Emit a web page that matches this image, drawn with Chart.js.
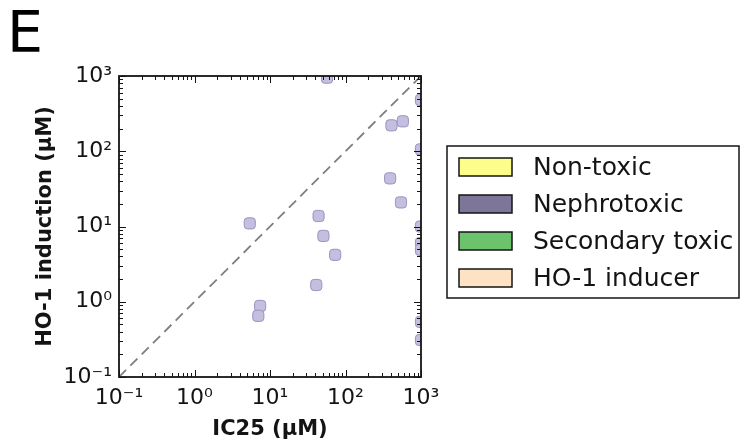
<!DOCTYPE html>
<html>
<head>
<meta charset="utf-8">
<script src="https://cdn.jsdelivr.net/npm/chart.js@4.4.1/dist/chart.umd.min.js"></script>
<style>
  html, body { margin: 0; padding: 0; background: #fff; }
</style>
</head>
<body>
<canvas id="scatterChart" width="751" height="445"></canvas>
<script>
// Legend categories
const categories = ['Non-toxic', 'Nephrotoxic', 'Secondary toxic', 'HO-1 inducer'];
const categoryColors = ['#fdfd8c', '#7d7698', '#6cc36c', '#fde2c3'];

// Nephrotoxic compounds (µM)
const nephroIC25 = [5.4, 7.4, 7.0, 44, 51, 73, 41, 57, 406, 575, 390, 543, 1000, 1000, 1000, 1000, 1000, 1000, 1000];
const nephroHO1  = [11, 0.88, 0.65, 13.8, 7.5, 4.2, 1.67, 950, 221, 250, 43.6, 20.9, 480, 106, 10, 6.0, 4.9, 0.54, 0.31];

// Other categories have no points in this panel
const nonToxic = [];
const secondaryToxic = [];
const ho1Inducer = [];

// y = x reference line
const identityLine = [0.1, 1000];

// Axis ticks
const tickValues = [0.1, 1, 10, 100, 1000];
const tickLabels = ['10\u207B\u00B9', '10\u2070', '10\u00B9', '10\u00B2', '10\u00B3'];

const FONT = "'DejaVu Sans', sans-serif";
const INK = '#141414';

function decadeTicks(scale) {
    const vals = [];
    for (let i = 0; i < tickValues.length - 1; i++) {
        for (let m = 1; m < 10; m++) vals.push(m * tickValues[i]);
    }
    vals.push(tickValues[tickValues.length - 1]);
    scale.ticks = vals.map(v => ({ value: v }));
}

function tickLabel(value) {
    const i = tickValues.findIndex(t => Math.abs(t - value) / t < 1e-6);
    return i >= 0 ? tickLabels[i] : '';
}

function isMajor(value) {
    return tickValues.some(t => Math.abs(t - value) / t < 1e-6);
}

// frame + inward ticks on all four sides, panel letter and boxed legend
const framePlugin = {
    id: 'framePlugin',
    afterDatasetsDraw(chart) {
        const { ctx, chartArea: a, scales } = chart;
        ctx.save();
        ctx.strokeStyle = INK;
        ctx.lineWidth = 1;
        scales.x.ticks.forEach(t => {
            const px = Math.round(scales.x.getPixelForValue(t.value)) + 0.5;
            const len = isMajor(t.value) ? 7 : 4;
            ctx.beginPath();
            ctx.moveTo(px, a.bottom); ctx.lineTo(px, a.bottom - len);
            ctx.moveTo(px, a.top); ctx.lineTo(px, a.top + len);
            ctx.stroke();
        });
        scales.y.ticks.forEach(t => {
            const py = Math.round(scales.y.getPixelForValue(t.value)) + 0.5;
            const len = isMajor(t.value) ? 7 : 4;
            ctx.beginPath();
            ctx.moveTo(a.left, py); ctx.lineTo(a.left + len, py);
            ctx.moveTo(a.right, py); ctx.lineTo(a.right - len, py);
            ctx.stroke();
        });
        ctx.lineWidth = 1.8;
        ctx.strokeRect(a.left, a.top, a.right - a.left, a.bottom - a.top);
        ctx.restore();
    },
    afterDraw(chart) {
        const ctx = chart.ctx;
        ctx.save();
        // panel letter
        ctx.fillStyle = '#000';
        ctx.font = '57px ' + FONT;
        ctx.textBaseline = 'alphabetic';
        ctx.textAlign = 'left';
        ctx.fillText('E', 7, 52);

        // legend
        const box = { left: 447, top: 146, right: 739, bottom: 298 };
        ctx.fillStyle = '#fff';
        ctx.fillRect(box.left, box.top, box.right - box.left, box.bottom - box.top);
        ctx.strokeStyle = INK;
        ctx.lineWidth = 1.5;
        ctx.strokeRect(box.left, box.top, box.right - box.left, box.bottom - box.top);
        ctx.font = '25px ' + FONT;
        ctx.textBaseline = 'middle';
        categories.forEach((name, i) => {
            const cy = 167 + i * 37;
            ctx.fillStyle = categoryColors[i];
            ctx.fillRect(459, cy - 9, 53, 18);
            ctx.strokeRect(459, cy - 9, 53, 18);
            ctx.fillStyle = INK;
            ctx.fillText(name, 533, cy + 1);
        });
        ctx.restore();
    }
};

const ctx = document.getElementById('scatterChart').getContext('2d');
new Chart(ctx, {
    type: 'scatter',
    data: {
        datasets: [
            {
                label: categories[0],
                data: nonToxic,
                backgroundColor: categoryColors[0]
            },
            {
                label: categories[1],
                data: nephroIC25.map((x, i) => ({ x: x, y: nephroHO1[i] })),
                pointStyle: 'rectRounded',
                pointRadius: 6.5,
                backgroundColor: '#c4bedf',
                borderColor: '#9a94c2',
                borderWidth: 1,
                order: 1
            },
            {
                label: categories[2],
                data: secondaryToxic,
                backgroundColor: categoryColors[2]
            },
            {
                label: categories[3],
                data: ho1Inducer,
                backgroundColor: categoryColors[3]
            },
            {
                type: 'line',
                label: 'identity',
                data: identityLine.map(v => ({ x: v, y: v })),
                borderColor: '#7e7e7e',
                borderWidth: 1.8,
                borderDash: [10, 6],
                pointRadius: 0,
                fill: false,
                order: 2
            }
        ]
    },
    options: {
        responsive: false,
        animation: false,
        layout: {
            padding: { left: 0, top: 76, right: 330, bottom: 0 }
        },
        plugins: {
            legend: { display: false },
            tooltip: { enabled: false }
        },
        scales: {
            x: {
                type: 'logarithmic',
                min: 0.1,
                max: 1000,
                afterBuildTicks: decadeTicks,
                afterFit: scale => { scale.height = 68; },
                grid: { display: false, drawTicks: false },
                border: { display: false },
                ticks: {
                    autoSkip: false,
                    maxRotation: 0,
                    padding: 8,
                    color: INK,
                    font: { family: FONT, size: 22 },
                    callback: tickLabel
                },
                title: {
                    display: true,
                    text: 'IC25 (\u00B5M)',
                    color: INK,
                    font: { family: FONT, size: 21, weight: 'bold' },
                    padding: { top: 0, bottom: 3 }
                }
            },
            y: {
                type: 'logarithmic',
                min: 0.1,
                max: 1000,
                afterBuildTicks: decadeTicks,
                afterFit: scale => { scale.width = 119; },
                grid: { display: false, drawTicks: false },
                border: { display: false },
                ticks: {
                    autoSkip: false,
                    padding: 7,
                    color: INK,
                    font: { family: FONT, size: 22 },
                    callback: tickLabel
                },
                title: {
                    display: true,
                    text: 'HO-1 induction (\u00B5M)',
                    color: INK,
                    font: { family: FONT, size: 21, weight: 'bold' },
                    padding: { top: 33, bottom: 0 }
                }
            }
        }
    },
    plugins: [framePlugin]
});
</script>
</body>
</html>
